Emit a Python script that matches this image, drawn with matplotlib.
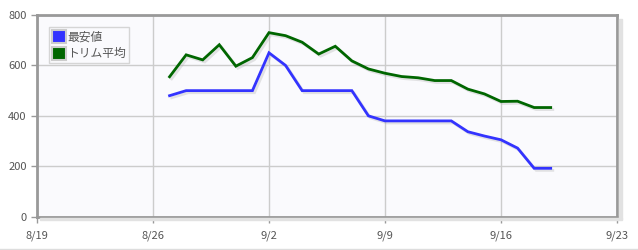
import datetime as dt
import matplotlib
matplotlib.use("Agg")
import matplotlib.pyplot as plt
import matplotlib.patheffects as pe
from matplotlib.patches import Rectangle
from matplotlib.lines import Line2D

plt.rcParams["font.family"] = ["Noto Sans CJK JP", "DejaVu Sans"]

# data
start = dt.date(2019, 8, 27)
days = [start + dt.timedelta(days=i) for i in range(24)]
min_price = [480, 500, 500, 500, 500, 500, 650, 600, 500, 500, 500, 500,
             400, 380, 380, 380, 380, 380, 337, 320, 305, 272, 192, 192]
trim_mean = [555, 642, 622, 682, 597, 631, 730, 718, 692, 645, 676, 618,
             586, 569, 556, 551, 540, 540, 506, 487, 457, 458, 433, 433]
series_names = ["最安値", "トリム平均"]
series_colors = ["#3333ff", "#006600"]
tick_dates = [dt.date(2019, 8, 19) + dt.timedelta(days=7 * i) for i in range(6)]
tick_labels = ["8/19", "8/26", "9/2", "9/9", "9/16", "9/23"]

fig = plt.figure(figsize=(6.38, 2.5), dpi=100)
ax = fig.add_axes([37 / 638, 1 - 216.7 / 250, 580 / 638, 201.7 / 250])
ax.set_facecolor("#fafafd")

shadow = [pe.SimpleLineShadow(offset=(1.5, -1.5), shadow_color="#aaaaaa", alpha=0.3), pe.Normal()]
for vals, col in zip([min_price, trim_mean], series_colors):
    ax.plot(days, vals, color=col, lw=2, path_effects=shadow, zorder=3,
            solid_joinstyle="miter")

ax.set_xlim(tick_dates[0], tick_dates[-1])
ax.set_ylim(0, 800)
ax.set_xticks(tick_dates)
ax.set_xticklabels(tick_labels)
ax.set_yticks([0, 200, 400, 600, 800])
ax.grid(True, color="#cccccc", lw=1)
ax.set_axisbelow(True)
ax.tick_params(colors="#999999", labelcolor="#555555", labelsize=8, length=4, width=1)
ax.tick_params(axis="x", pad=6)
for s in ax.spines.values():
    s.set_color("#999999")
    s.set_linewidth(2)
    s.set_zorder(4)

# frame shadow on right/bottom
fig.patches.append(Rectangle((619 / 638, 1 - 219 / 250), 3 / 638, 200 / 250,
                             transform=fig.transFigure, color="#e2e2e2", zorder=0))
fig.patches.append(Rectangle((40 / 638, 1 - 220 / 250), 582 / 638, 2.5 / 250,
                             transform=fig.transFigure, color="#e2e2e2", zorder=0))
fig.add_artist(Line2D([0, 1], [1.5 / 250, 1.5 / 250], transform=fig.transFigure,
                      color="#dddddd", lw=1))

handles = [Rectangle((0, 0), 1, 1, facecolor=c, edgecolor="#cccccc", lw=1.5)
           for c in series_colors]
leg = ax.legend(handles, series_names, loc="upper left", bbox_to_anchor=(12 / 580, 0.94),
                fontsize=8.5, frameon=True, fancybox=False, handlelength=1.2,
                handleheight=1.3, handletextpad=0.1, borderpad=0.25,
                labelspacing=0.3, borderaxespad=0)
leg.get_frame().set_edgecolor("#cccccc")
leg.get_frame().set_facecolor("#fafafd")
for t in leg.get_texts():
    t.set_color("#555555")

fig.savefig("out.png", dpi=100)
